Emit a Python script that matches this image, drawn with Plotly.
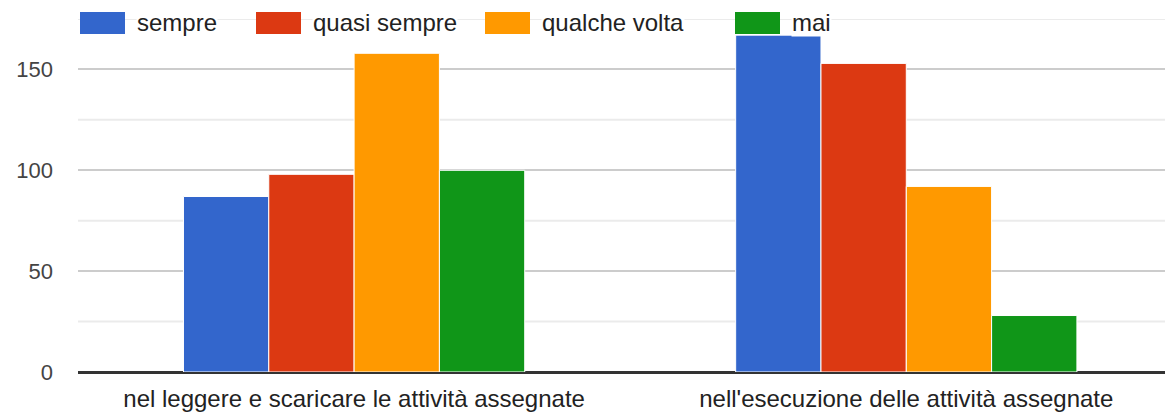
import plotly.graph_objects as go

categories = ["nel leggere e scaricare le attività assegnate",
              "nell'esecuzione delle attività assegnate"]
series_names = ["sempre", "quasi sempre", "qualche volta", "mai"]
sempre = [87, 167]
quasi_sempre = [98, 153]
qualche_volta = [158, 92]
mai = [100, 28]
series_values = [sempre, quasi_sempre, qualche_volta, mai]
colors = ["#3366cc", "#dc3912", "#ff9900", "#109618"]
y_ticks = [0, 50, 100, 150]

# page body has an 8px margin; the figure is sized and laid out to compensate
OFF = 8
W, H = 1173 - OFF, 415 - OFF
ML, MR, MT, MB = 78 - OFF, 0, 19 - OFF, 43
PW, PH = W - ML - MR, H - MT - MB
FONT = "Arial, 'Liberation Sans', sans-serif"


def px_x(px):
    return (px - OFF - ML) / PW


def px_y(py):
    return (H - MB - (py - OFF)) / PH


fig = go.Figure()
for name, vals, c in zip(series_names, series_values, colors):
    fig.add_trace(go.Bar(x=categories, y=vals, name=name, marker_color=c,
                         marker_line_color="white", marker_line_width=1,
                         showlegend=False))

shapes = []
for v in [25, 75, 125, 175]:
    shapes.append(dict(type="line", xref="paper", yref="y", x0=0, x1=1, y0=v, y1=v,
                       line=dict(color="#ebebeb", width=2), layer="below"))

# custom legend (wide swatches like the reference)
legend_box_x = [80, 256, 485, 735]
annotations = []
for name, c, bx in zip(series_names, colors, legend_box_x):
    shapes.append(dict(type="rect", xref="paper", yref="paper",
                       x0=px_x(bx), x1=px_x(bx + 45), y0=px_y(12), y1=px_y(34),
                       fillcolor=c, line=dict(width=0), layer="above"))
    annotations.append(dict(xref="paper", yref="paper", x=px_x(bx + 56), y=px_y(23),
                            xanchor="left", yanchor="middle", text=name, showarrow=False,
                            bgcolor="white", borderpad=0,
                            font=dict(family=FONT, size=24, color="#222222")))

fig.update_layout(
    width=W, height=H,
    margin=dict(l=ML, r=MR, t=MT, b=MB, pad=0),
    paper_bgcolor="white", plot_bgcolor="white",
    barmode="group", bargap=0.382, bargroupgap=0,
    font=dict(family=FONT, size=22, color="#444444"),
    shapes=shapes, annotations=annotations,
    showlegend=False,
)
fig.update_xaxes(range=[-0.5, 1.483], showgrid=False, showline=False,
                 tickfont=dict(family=FONT, size=24, color="#222222"),
                 ticks="", ticklabelstandoff=10)
fig.update_yaxes(range=[0, 175], tickvals=y_ticks, showgrid=True, gridcolor="#cccccc",
                 gridwidth=2, zeroline=True, zerolinecolor="#333333", zerolinewidth=3,
                 tickfont=dict(family=FONT, size=22, color="#444444"),
                 ticks="", ticklabelstandoff=24)

fig.write_html("out.html")
